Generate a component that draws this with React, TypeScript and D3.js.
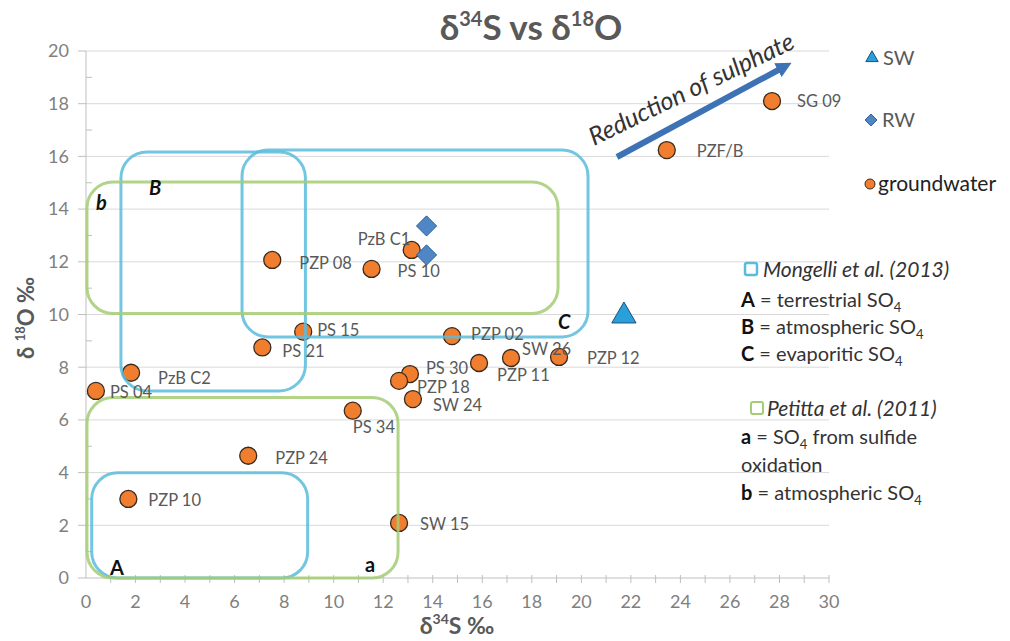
import React from "react";
import * as d3 from "d3";

const xTicks = [0, 2, 4, 6, 8, 10, 12, 14, 16, 18, 20, 22, 24, 26, 28, 30];
const yTicks = [0, 2, 4, 6, 8, 10, 12, 14, 16, 18, 20];

const gwNames = ["PS 04", "PzB C2", "PZP 10", "PZP 24", "PS 21", "PS 15", "PZP 08", "PS 10", "PzB C1", "PZP 02", "PS 30", "PZP 18", "SW 24", "PS 34", "SW 15", "PZP 11", "SW 26", "PZP 12", "PZF/B", "SG 09"];
const gwS34 = [0.4, 1.82, 1.71, 6.55, 7.12, 8.77, 7.52, 11.53, 13.15, 14.78, 13.08, 12.64, 13.2, 10.77, 12.64, 15.87, 17.16, 19.1, 23.45, 27.7];
const gwO18 = [7.1, 7.79, 3.0, 4.64, 8.75, 9.35, 12.07, 11.73, 12.45, 9.18, 7.74, 7.48, 6.79, 6.35, 2.09, 8.16, 8.35, 8.39, 16.24, 18.1];
// label placement offsets (px) relative to marker
const labelDx = [14, 27, 20, 27, 20, 14, 27, 26, -54, 19, 16, 18, 20, 0, 21, 18, 11, 28, 30, 25];
const labelDy = [1, 5, 1, 2, 4, -1, 3, 2, -11, -2, -6, 6, 6, 17, 1, 12, -9, 1, 1, 0];

const rwS34 = [13.75, 13.75];
const rwO18 = [13.36, 12.26];
const swS34 = [21.72];
const swO18 = [10.02];

const boxNames = ["A", "B", "C", "a", "b"];
const boxX0 = [0.23, 1.41, 6.3, 0.04, 0.04];
const boxX1 = [8.95, 8.86, 20.27, 12.6, 19.06];
const boxY0 = [0, 7.1, 9.15, 0, 10.04];
const boxY1 = [3.99, 16.17, 16.24, 6.85, 15.03];
const boxSource = ["Mongelli", "Mongelli", "Mongelli", "Petitta", "Petitta"];

const FONT = "Lato, 'Open Sans', sans-serif";
const GREY = "#595959";

export default function App() {
  const x = d3.scaleLinear().domain([0, 30]).range([86, 829]);
  const y = d3.scaleLinear().domain([0, 20]).range([578, 51]);
  const minorY = d3.range(1, 20, 2);
  const minorX = d3.range(1, 31, 1);
  const blue = "#5ABCDD";
  const green = "#A3CC74";

  const diamond = d3.symbol().type(d3.symbolDiamond2).size(260)();
  const tri = d3.symbol().type(d3.symbolTriangle2).size(420)();
  const smallDiamond = d3.symbol().type(d3.symbolDiamond2).size(90)();
  const smallTri = d3.symbol().type(d3.symbolTriangle2).size(110)();

  const arrowStart = [617, 157];
  const arrowEnd = [782, 68];

  const legendLines = [
    { y: 300, bold: "A", rest: " = terrestrial SO", sub: "4", after: "" },
    { y: 327, bold: "B", rest: " = atmospheric SO", sub: "4", after: "" },
    { y: 354, bold: "C", rest: " = evaporitic SO", sub: "4", after: "" },
    { y: 437, bold: "a", rest: " = SO", sub: "4", after: " from sulfide" },
    { y: 465, bold: "", rest: "oxidation", sub: "", after: "" },
    { y: 493, bold: "b", rest: " = atmospheric SO", sub: "4", after: "" },
  ];

  return (
    <svg width={1010} height={641} style={{ position: "absolute", left: 0, top: 0, background: "#fff" }} fontFamily={FONT}>
      <rect width={1010} height={641} fill="#fff" />
      {/* gridlines */}
      {yTicks.filter((t) => t > 0).map((t) => (
        <line key={"g" + t} x1={x(0)} x2={x(30)} y1={y(t)} y2={y(t)} stroke="#D9D9D9" strokeWidth={1} />
      ))}
      {/* axes */}
      <line x1={x(0)} x2={x(0)} y1={y(0)} y2={y(20)} stroke="#BFBFBF" />
      <line x1={x(0)} x2={x(30)} y1={y(0)} y2={y(0)} stroke="#BFBFBF" />
      {yTicks.map((t) => (
        <line key={"yt" + t} x1={x(0) - 8} x2={x(0)} y1={y(t)} y2={y(t)} stroke="#BFBFBF" />
      ))}
      {minorY.map((t) => (
        <line key={"ym" + t} x1={x(0)} x2={x(0) + 6} y1={y(t)} y2={y(t)} stroke="#BFBFBF" />
      ))}
      {minorX.map((t) => (
        <line key={"xm" + t} x1={x(t)} x2={x(t)} y1={y(0) - 3} y2={y(0) + 5} stroke="#BFBFBF" />
      ))}
      {yTicks.map((t) => (
        <text key={"yl" + t} x={69} y={y(t)} dy="0.35em" textAnchor="end" fontSize={18} fill="#7F7F7F">{t}</text>
      ))}
      {xTicks.map((t) => (
        <text key={"xl" + t} x={x(t)} y={y(0) + 30} textAnchor="middle" fontSize={18} fill="#7F7F7F">{t}</text>
      ))}

      {/* groundwater points */}
      {gwNames.map((n, i) => (
        <circle key={"c" + i} cx={x(gwS34[i])} cy={y(gwO18[i])} r={8.5} fill="#F07E2E" stroke="#3A2A1C" strokeWidth={1.3} />
      ))}
      {rwS34.map((v, i) => (
        <path key={"rw" + i} d={diamond!} transform={`translate(${x(v)},${y(rwO18[i])})`} fill="#4F86C6" stroke="#2F5F96" strokeWidth={1} />
      ))}
      {swS34.map((v, i) => (
        <path key={"sw" + i} d={tri!} transform={`translate(${x(v)},${y(swO18[i]) + 2})`} fill="#2AA0DA" stroke="#1F4E79" strokeWidth={1} />
      ))}

      {/* boxes */}
      {boxNames.map((n, i) => (
        <rect key={"b" + n} x={x(boxX0[i])} y={y(boxY1[i])} width={x(boxX1[i]) - x(boxX0[i])} height={y(boxY0[i]) - y(boxY1[i])}
          rx={26} ry={26} fill="none" stroke={boxSource[i] === "Mongelli" ? blue : green} strokeWidth={3} strokeOpacity={0.85} />
      ))}

      {/* point labels */}
      {gwNames.map((n, i) => (
        <text key={"t" + i} x={x(gwS34[i]) + labelDx[i]} y={y(gwO18[i]) + labelDy[i]} dy="0.35em" fontSize={16.5} fill={GREY}>{n}</text>
      ))}

      {/* box letters */}
      <text x={96} y={210} fontSize={20} fontWeight="bold" fontStyle="italic" fill="#111">b</text>
      <text x={149} y={195} fontSize={20} fontWeight="bold" fontStyle="italic" fill="#111">B</text>
      <text x={558} y={329} fontSize={20} fontWeight="bold" fontStyle="italic" fill="#111">C</text>
      <text x={110} y={575} fontSize={20} fontWeight="bold" fill="#111">A</text>
      <text x={365} y={572} fontSize={20} fontWeight="bold" fill="#111">a</text>

      {/* arrow */}
      <defs>
        <marker id="ah" viewBox="0 0 10 10" refX="3" refY="5" markerWidth="2.6" markerHeight="2.6" orient="auto">
          <path d="M0,0 L10,5 L0,10 z" fill="#3D72B4" />
        </marker>
      </defs>
      <line x1={arrowStart[0]} y1={arrowStart[1]} x2={arrowEnd[0]} y2={arrowEnd[1]} stroke="#3D72B4" strokeWidth={6} markerEnd="url(#ah)" />
      <text transform="translate(594,146) rotate(-26)" fontSize={25} fontStyle="italic" fill="#333">Reduction of sulphate</text>

      {/* title */}
      <text x={531} y={40} textAnchor="middle" fontSize={35} fontWeight="bold" fill={GREY}>
        δ<tspan fontSize={20} dy={-14}>34</tspan><tspan dy={14}>S vs δ</tspan><tspan fontSize={20} dy={-14}>18</tspan><tspan dy={14}>O</tspan>
      </text>

      {/* axis titles */}
      <text x={457} y={634} textAnchor="middle" fontSize={23} fontWeight="bold" fill={GREY}>
        δ<tspan fontSize={14} dy={-10}>34</tspan><tspan dy={10}>S ‰</tspan>
      </text>
      <text transform="translate(34,318) rotate(-90)" textAnchor="middle" fontSize={22} fontWeight="bold" fill={GREY}>
        δ <tspan fontSize={13} dy={-9}>18</tspan><tspan dy={9}>O ‰</tspan>
      </text>

      {/* marker legend */}
      <path d={smallTri!} transform="translate(872,58)" fill="#2AA0DA" stroke="#1F4E79" strokeWidth={1} />
      <text x={883} y={58} dy="0.35em" fontSize={20} fill={GREY}>SW</text>
      <path d={smallDiamond!} transform="translate(871,120)" fill="#4F86C6" stroke="#2F5F96" strokeWidth={1} />
      <text x={882} y={120} dy="0.35em" fontSize={20} fill={GREY}>RW</text>
      <circle cx={870} cy={184} r={5} fill="#F07E2E" stroke="#3A2A1C" strokeWidth={1} />
      <text x={878} y={184} dy="0.35em" fontSize={21} fill="#222">groundwater</text>

      {/* source legend */}
      <rect x={745} y={263} width={12} height={12} rx={2} fill="none" stroke={blue} strokeWidth={2.5} />
      <text x={763} y={270} dy="0.35em" fontSize={21} fontStyle="italic" fill="#333">Mongelli et al. (2013)</text>
      <rect x={751} y={402} width={12} height={12} rx={2} fill="none" stroke={green} strokeWidth={2} />
      <text x={767} y={409} dy="0.35em" fontSize={21} fontStyle="italic" fill="#333">Petitta et al. (2011)</text>
      {legendLines.map((l, i) => (
        <text key={"ll" + i} x={741} y={l.y} dy="0.35em" fontSize={20} fill="#333">
          {l.bold ? <tspan fontWeight="bold" fill="#111">{l.bold}</tspan> : null}
          <tspan>{l.rest}</tspan>
          {l.sub ? <tspan fontSize={13} dy={5}>{l.sub}</tspan> : null}
          {l.after ? <tspan dy={-5}>{l.after}</tspan> : null}
        </text>
      ))}
    </svg>
  );
}
